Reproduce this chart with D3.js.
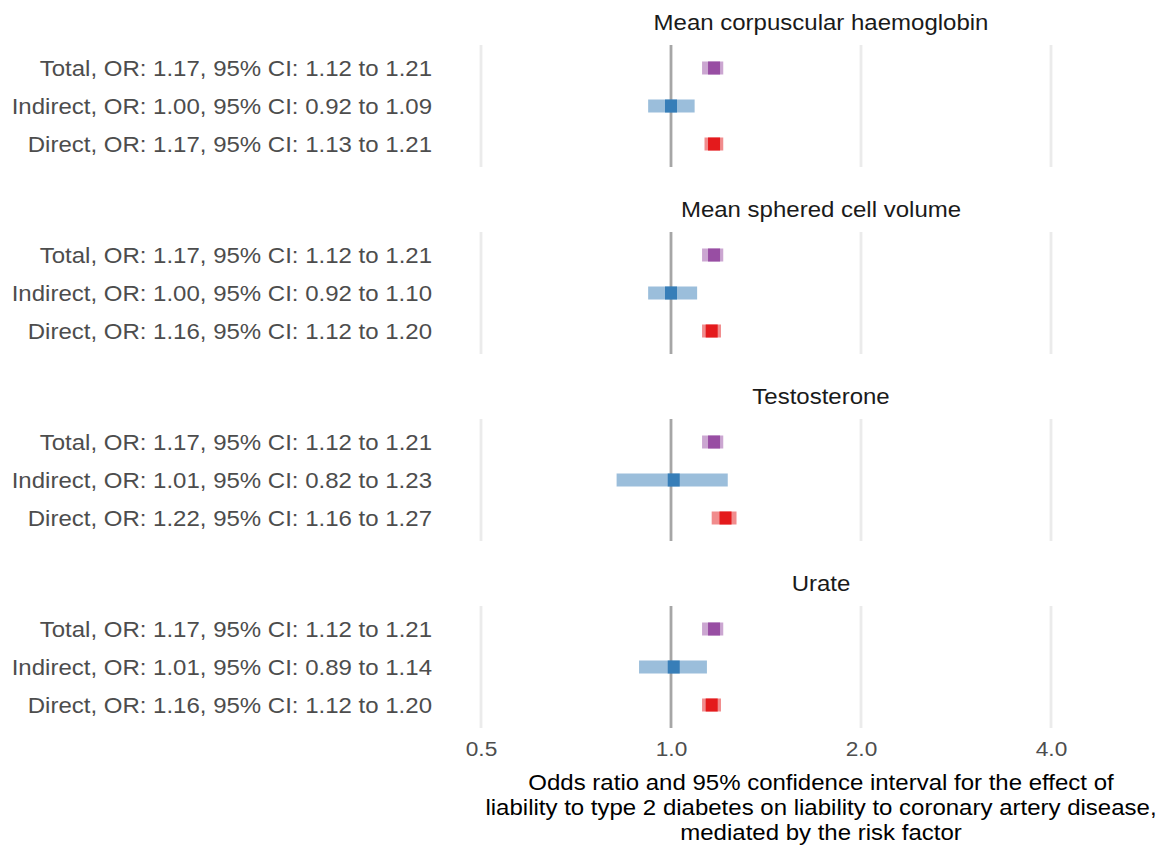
<!DOCTYPE html>
<html><head><meta charset="utf-8">
<script src="https://cdn.jsdelivr.net/npm/d3@7"></script>
<style>
body{margin:0;background:#fff;}
text{font-family:"Liberation Sans",Arial,Helvetica,sans-serif;}
</style></head>
<body><svg id="c" width="1163" height="848"></svg>
<script>
const panels = ["Mean corpuscular haemoglobin","Mean sphered cell volume","Testosterone","Urate"];
const effects = ["Total","Indirect","Direct"];
const orValues = [[1.17,1.00,1.17],[1.17,1.00,1.16],[1.17,1.01,1.22],[1.17,1.01,1.16]];
const lowerCI = [[1.12,0.92,1.13],[1.12,0.92,1.12],[1.12,0.82,1.16],[1.12,0.89,1.12]];
const upperCI = [[1.21,1.09,1.21],[1.21,1.10,1.20],[1.21,1.23,1.27],[1.21,1.14,1.20]];
const tickValues = [0.5,1,2,4];
const colors = {Total:"#984ea3", Indirect:"#377eb8", Direct:"#e41a1c"};

const svg = d3.select("#c");
const x = d3.scaleLog().base(2).domain([0.5,4]).range([481,1051]);
const panelTop0 = 45, panelStep = 187, panelH = 122;
const y = d3.scalePoint().domain(effects).range([23,99]);
const f2 = d3.format(".2f");
const centerX = 821;
const SX = 1.117;

panels.forEach((p,i)=>{
  const g = svg.append("g").attr("transform",`translate(0,${panelTop0+i*panelStep})`);
  g.append("text").attr("transform",`translate(${centerX},-15.5) scale(${SX},1)`).attr("text-anchor","middle")
    .attr("font-size",21.5).attr("fill","#1a1a1a").text(p);
  g.selectAll("line.grid").data(tickValues.filter(t=>t!==1)).join("line")
    .attr("x1",d=>x(d)).attr("x2",d=>x(d)).attr("y1",0).attr("y2",panelH)
    .attr("stroke","#ebebeb").attr("stroke-width",2.8);
  g.append("line").attr("x1",x(1)).attr("x2",x(1)).attr("y1",0).attr("y2",panelH)
    .attr("stroke","#a6a6a6").attr("stroke-width",2.8);
  const rows = effects.map((e,j)=>({e, or:orValues[i][j], lo:lowerCI[i][j], hi:upperCI[i][j]}));
  g.selectAll("text.lab").data(rows).join("text")
    .attr("transform",d=>`translate(432,${y(d.e)}) scale(${SX},1)`).attr("dy","0.36em").attr("text-anchor","end")
    .attr("font-size",21.5).attr("fill","#4d4d4d")
    .text(d=>`${d.e}, OR: ${f2(d.or)}, 95% CI: ${f2(d.lo)} to ${f2(d.hi)}`);
  g.selectAll("rect.ci").data(rows).join("rect")
    .attr("x",d=>x(d.lo)).attr("width",d=>x(d.hi)-x(d.lo))
    .attr("y",d=>y(d.e)-6.5).attr("height",13)
    .attr("fill",d=>colors[d.e]).attr("fill-opacity",0.5);
  g.selectAll("rect.pt").data(rows).join("rect")
    .attr("x",d=>x(d.or)-6).attr("width",12)
    .attr("y",d=>y(d.e)-6.5).attr("height",13)
    .attr("fill",d=>colors[d.e]);
});

const axisY = panelTop0+3*panelStep+panelH;
const ax = svg.append("g").attr("transform",`translate(0,${axisY})`)
  .call(d3.axisBottom(x).tickValues(tickValues).tickFormat(d3.format(".1f")).tickSize(0).tickPadding(0));
ax.select(".domain").remove();
ax.selectAll(".tick text").attr("y",null).attr("dy",null)
  .attr("transform",`translate(0,27.5) scale(1.08,1)`)
  .attr("font-size",21).attr("fill","#4d4d4d")
  .attr("font-family","'Liberation Sans',Arial,Helvetica,sans-serif");

const titleLines = ["Odds ratio and 95% confidence interval for the effect of",
  "liability to type 2 diabetes on liability to coronary artery disease,",
  "mediated by the risk factor"];
svg.append("g").selectAll("text").data(titleLines).join("text")
  .attr("transform",(d,k)=>`translate(${centerX},${789.5+k*25.2}) scale(${SX},1)`).attr("text-anchor","middle")
  .attr("font-size",21.5).attr("fill","#000").text(d=>d);
</script></body></html>
